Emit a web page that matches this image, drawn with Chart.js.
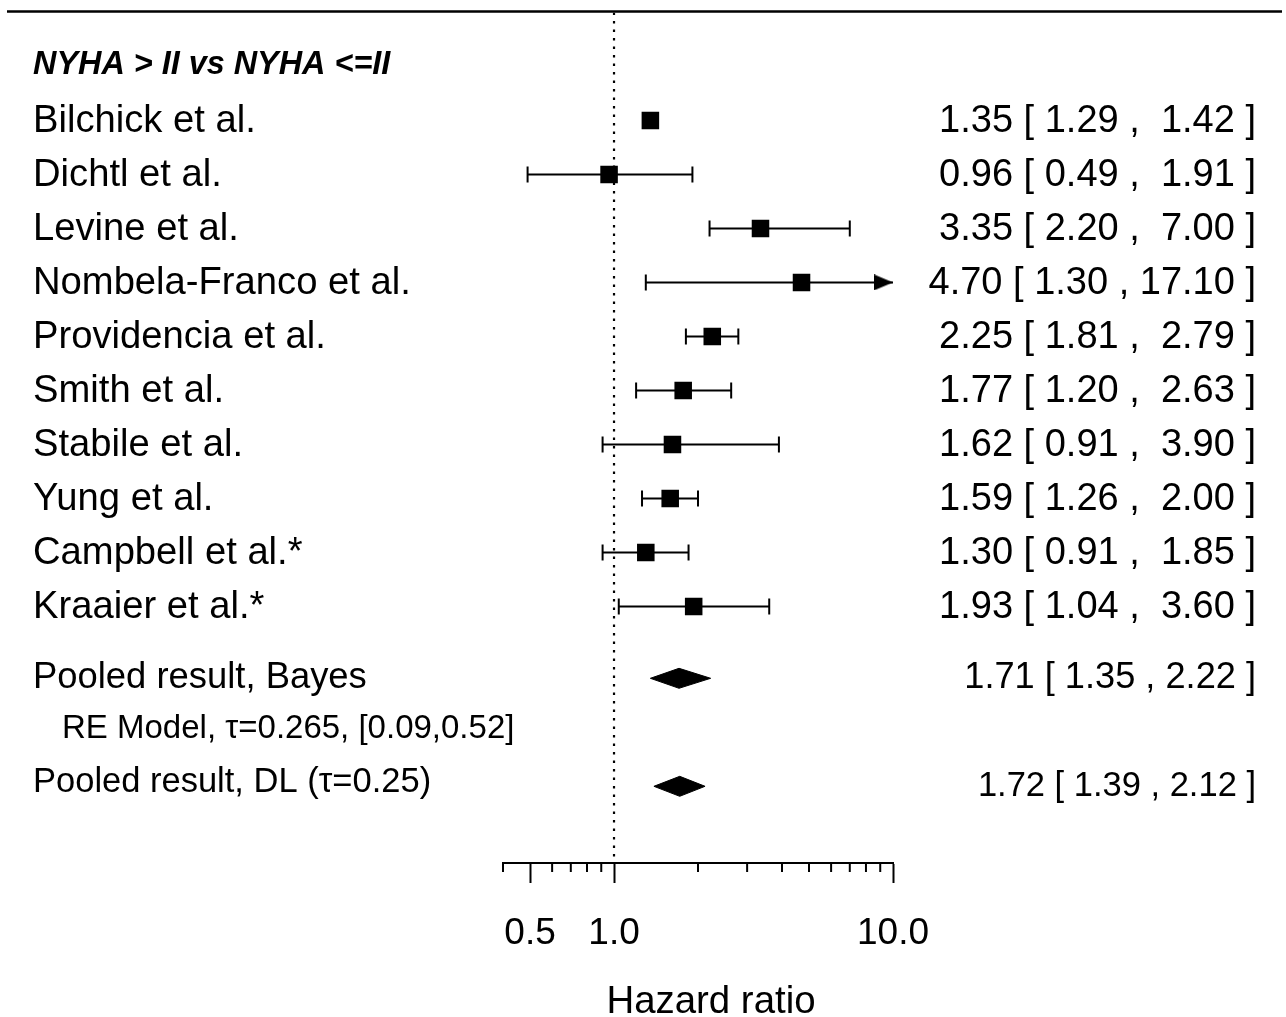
<!DOCTYPE html>
<html><head><meta charset="utf-8">
<script src="https://cdn.jsdelivr.net/npm/chart.js@4/dist/chart.umd.min.js"></script>
<style>html,body{margin:0;padding:0;background:#fff;} #wrap{width:1286px;height:1017px;}</style>
</head><body><div id="wrap"><canvas id="c" width="1286" height="1017"></canvas></div>
<script>
// ---------- data ----------
const header = 'NYHA > II vs NYHA <=II';
const studies = ['Bilchick et al.', 'Dichtl et al.', 'Levine et al.', 'Nombela-Franco et al.', 'Providencia et al.', 'Smith et al.', 'Stabile et al.', 'Yung et al.', 'Campbell et al.*', 'Kraaier et al.*'];
const hr     = [1.35, 0.96, 3.35, 4.70, 2.25, 1.77, 1.62, 1.59, 1.30, 1.93];
const ciLow  = [1.29, 0.49, 2.20, 1.30, 1.81, 1.20, 0.91, 1.26, 0.91, 1.04];
const ciHigh = [1.42, 1.91, 7.00, 17.10, 2.79, 2.63, 3.90, 2.00, 1.85, 3.60];
const studyRows = [1, 2, 3, 4, 5, 6, 7, 8, 9, 10];
const headerRow = 0;
const pooledLabels = ['Pooled result, Bayes', 'Pooled result, DL (\u03C4=0.25)'];
const pooledEst  = [1.71, 1.72];
const pooledLow  = [1.35, 1.39];
const pooledHigh = [2.22, 2.12];
const pooledRows = [11.33, 13.33];
const modelNote = 'RE Model, \u03C4=0.265, [0.09,0.52]';
const modelNoteRow = 12.24;
const majorTicks = [0.5, 1, 10];
const minorTicks = [0.4, 0.6, 0.7, 0.8, 0.9, 2, 3, 4, 5, 6, 7, 8, 9];
const xMin = 0.4, xMax = 10;
const yMin = -1, yMax = 14.75;
const xLabel = 'Hazard ratio';

// ---------- styles ----------
const FONT = '"Liberation Sans", Arial, Helvetica, sans-serif';
Chart.defaults.font.family = FONT;
const diamondHalf = 0.185;

// arrow head image, tip at image centre
const arrowImg = document.createElement('canvas');
arrowImg.width = 38; arrowImg.height = 16;
(function(){ const c = arrowImg.getContext('2d'); c.fillStyle = '#000'; c.beginPath(); c.moveTo(0,0); c.lineTo(19,8); c.lineTo(0,16); c.closePath(); c.fill(); })();

// ---------- build datasets ----------
const squares = hr.map((v, i) => ({x: v, y: studyRows[i]}));
const ciSets = hr.map((v, i) => {
  const over = ciHigh[i] > xMax;
  return {
    data: [
      {x: ciLow[i], y: studyRows[i], arrow: false},
      {x: over ? xMax : ciHigh[i], y: studyRows[i], arrow: over}
    ],
    showLine: true, borderColor: '#000', borderWidth: 2, fill: false,
    pointStyle: c => (c.raw && c.raw.arrow) ? arrowImg : 'line',
    rotation: c => (c.raw && c.raw.arrow) ? 0 : 90,
    pointRadius: 8, pointBorderWidth: 2, pointBorderColor: '#000', pointBackgroundColor: '#000', order: 2
  };
});
const diamondSets = pooledEst.map((e, i) => ({
  data: [
    {x: pooledLow[i], y: pooledRows[i]},
    {x: e, y: pooledRows[i] - diamondHalf},
    {x: pooledHigh[i], y: pooledRows[i]},
    {x: e, y: pooledRows[i] + diamondHalf},
    {x: pooledLow[i], y: pooledRows[i]}
  ],
  showLine: true, fill: 'shape', backgroundColor: '#000', borderColor: '#000', borderWidth: 1,
  pointRadius: 0, tension: 0, order: 1
}));

const fmt = v => v.toFixed(2);
const loW = Math.max(...ciLow.map(v => fmt(v).length));
const hiW = Math.max(...ciHigh.map(v => fmt(v).length));
const studyText = hr.map((v, i) => `${fmt(v)} [ ${fmt(ciLow[i]).padStart(loW)} , ${fmt(ciHigh[i]).padStart(hiW)} ]`);
const pooledText = pooledEst.map((v, i) => `${fmt(v)} [ ${fmt(pooledLow[i])} , ${fmt(pooledHigh[i])} ]`);

const textPlugin = {
  id: 'forestText',
  afterDraw(chart) {
    const {ctx, chartArea, scales: {x, y}} = chart;
    ctx.save();
    ctx.strokeStyle = '#000';
    ctx.lineWidth = 2.5;
    ctx.beginPath(); ctx.moveTo(7, chartArea.top - 1); ctx.lineTo(1282, chartArea.top - 1); ctx.stroke();
    ctx.lineWidth = 2;
    minorTicks.forEach(v => {
      const px = x.getPixelForValue(v);
      ctx.beginPath(); ctx.moveTo(px, chartArea.bottom); ctx.lineTo(px, chartArea.bottom + 9); ctx.stroke();
    });
    ctx.fillStyle = '#000';
    ctx.textBaseline = 'middle';
    ctx.textAlign = 'left';
    ctx.font = 'italic bold 32.4px ' + FONT;
    ctx.fillText(header, 33, y.getPixelForValue(headerRow) - 1);
    ctx.font = '38.2px ' + FONT;
    studies.forEach((s, i) => ctx.fillText(s, 33, y.getPixelForValue(studyRows[i]) + 1));
    ctx.font = '36.4px ' + FONT;
    ctx.fillText(pooledLabels[0], 33, y.getPixelForValue(pooledRows[0]));
    ctx.font = '33px ' + FONT;
    ctx.fillText(modelNote, 62, y.getPixelForValue(modelNoteRow) + 1);
    ctx.font = '34.5px ' + FONT;
    ctx.fillText(pooledLabels[1], 33, y.getPixelForValue(pooledRows[1]) - 4);
    ctx.textAlign = 'right';
    ctx.font = '38px ' + FONT;
    studyText.forEach((t, i) => ctx.fillText(t, 1256, y.getPixelForValue(studyRows[i]) + 1));
    ctx.font = '36.2px ' + FONT;
    ctx.fillText(pooledText[0], 1256, y.getPixelForValue(pooledRows[0]));
    ctx.font = '34.5px ' + FONT;
    ctx.fillText(pooledText[1], 1256, y.getPixelForValue(pooledRows[1]));
    ctx.textAlign = 'center';
    ctx.font = '38.4px ' + FONT;
    ctx.fillText(xLabel, 711, 1002);
    ctx.restore();
  }
};

new Chart(document.getElementById('c'), {
  type: 'line',
  data: {
    datasets: [
      {
        data: squares, showLine: false, pointStyle: 'rect', pointRadius: 12.4,
        pointBackgroundColor: '#000', pointBorderColor: '#000', pointBorderWidth: 0, order: 0
      },
      ...diamondSets,
      ...ciSets,
      {
        data: [{x: 1, y: yMin}, {x: 1, y: yMax}], showLine: true, borderColor: '#000', borderWidth: 2.2,
        borderDash: [2.5, 6], pointRadius: 0, fill: false, order: 3
      }
    ]
  },
  options: {
    responsive: false, animation: false, events: [],
    layout: {padding: {left: 503, right: 393, top: 10, bottom: 0}},
    plugins: {legend: {display: false}, tooltip: {enabled: false}},
    scales: {
      x: {
        type: 'logarithmic', min: xMin, max: xMax, position: 'bottom',
        afterBuildTicks: s => { s.ticks = majorTicks.map(v => ({value: v})); },
        afterFit: s => { s.height = 154; },
        ticks: {autoSkip: false, maxRotation: 0, minRotation: 0, padding: 29, color: '#000',
          font: {size: 37}, callback: v => Number(v).toFixed(1)},
        grid: {display: true, drawOnChartArea: false, drawTicks: true, tickLength: 20, tickWidth: 2, tickColor: '#000'},
        border: {display: true, color: '#000', width: 2}
      },
      y: {type: 'linear', min: yMin, max: yMax, reverse: true, display: false}
    }
  },
  plugins: [textPlugin]
});
</script></body></html>
